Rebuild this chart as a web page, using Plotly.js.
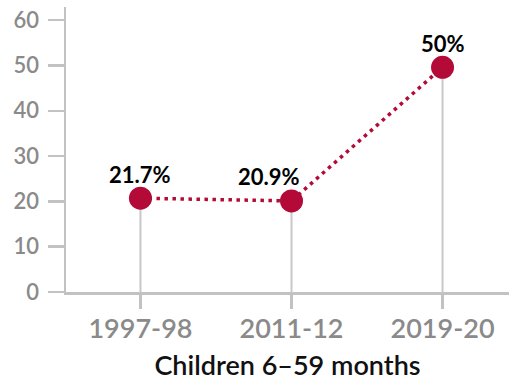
<!DOCTYPE html>
<html>
<head>
<meta charset="utf-8">
<script src="https://cdn.plot.ly/plotly-3.0.1.min.js"></script>
<style>
  html, body { margin: 0; padding: 0; background: #fff; }
  #chart { width: 509px; height: 381px; }
</style>
</head>
<body>
<div id="chart"></div>
<script>
// Data
const categories = ["1997-98", "2011-12", "2019-20"];
const values = [20.7, 20.1, 49.6];          // plotted marker heights
const valueLabels = ["21.7%", "20.9%", "50%"]; // printed labels
const yTicks = [0, 10, 20, 30, 40, 50, 60];
const xTitle = "Children 6–59 months";

const red = "#b30a37";
const axisGray = "#c2c2c2";
const tickGray = "#8a8a8a";
const fontFam = "Lato, 'Open Sans', sans-serif";

const trace = {
  type: "scatter",
  mode: "lines+markers",
  x: categories,
  y: values,
  line: { color: red, width: 3.5, dash: "3.5px,4.5px" },
  marker: { color: red, size: 23, line: { width: 0 } },
  error_y: {
    type: "data",
    symmetric: false,
    array: values.map(() => 0),
    arrayminus: values,
    width: 0,
    thickness: 2,
    color: "#c8c8c8"
  },
  hoverinfo: "skip",
  cliponaxis: false
};

const annotations = categories.map((c, i) => ({
  x: c,
  y: values[i],
  text: "<b>" + valueLabels[i] + "</b>",
  showarrow: false,
  xanchor: "center",
  yanchor: "middle",
  xshift: i === 1 ? -23 : 0,
  yshift: 24,
  font: { family: fontFam, size: 22, color: "#000" }
}));

const layout = {
  width: 509,
  height: 381,
  margin: { l: 66, r: 0, t: 7, b: 89 },
  paper_bgcolor: "#fff",
  plot_bgcolor: "#fff",
  showlegend: false,
  font: { family: fontFam },
  xaxis: {
    type: "category",
    range: [-0.493, 2.44],
    showgrid: false,
    zeroline: false,
    showline: true,
    linecolor: axisGray,
    linewidth: 2.5,
    ticks: "outside",
    ticklen: 14,
    tickwidth: 2.5,
    tickcolor: axisGray,
    ticklabelstandoff: -3,
    tickfont: { family: fontFam, size: 27, color: tickGray, weight: 600 },
    title: {
      text: xTitle,
      standoff: 15,
      font: { family: fontFam, size: 27, color: "#111", weight: 600 }
    },
    fixedrange: true
  },
  yaxis: {
    range: [0, 62.9],
    tickvals: yTicks,
    ticktext: yTicks.map(String),
    showgrid: false,
    zeroline: false,
    showline: true,
    linecolor: axisGray,
    linewidth: 2.5,
    ticks: "outside",
    ticklen: 16,
    tickwidth: 2.5,
    tickcolor: axisGray,
    ticklabelstandoff: 4,
    tickfont: { family: fontFam, size: 22, color: tickGray, weight: 600 },
    fixedrange: true
  },
  annotations: annotations
};

Plotly.newPlot("chart", [trace], layout, { displayModeBar: false, staticPlot: true });
</script>
</body>
</html>
